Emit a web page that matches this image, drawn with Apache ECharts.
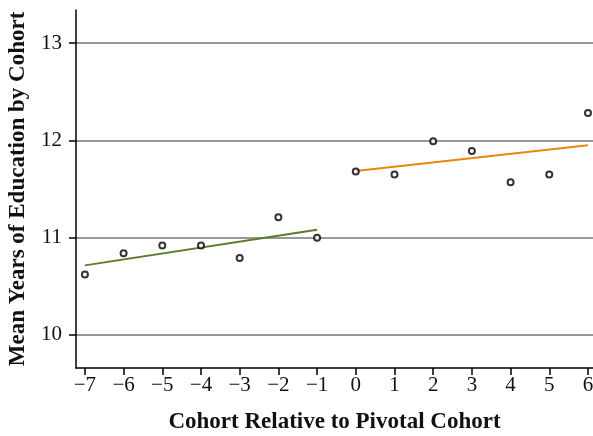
<!DOCTYPE html>
<html><head><meta charset="utf-8">
<script src="https://cdn.jsdelivr.net/npm/echarts@6/dist/echarts.min.js"></script>
<style>html,body{margin:0;padding:0;background:#fff}#c{width:593px;height:436px}</style>
</head><body><div id="c"></div>
<script>
const cohorts = [-7,-6,-5,-4,-3,-2,-1,0,1,2,3,4,5,6];
const meanYears = [10.62,10.84,10.92,10.92,10.79,11.21,11.00,11.68,11.65,11.99,11.89,11.57,11.65,12.28];
const preFitX = [-7,-1];
const preFitY = [10.715,11.08];
const postFitX = [0,6];
const postFitY = [11.685,11.95];
const xTicks = [-7,-6,-5,-4,-3,-2,-1,0,1,2,3,4,5,6];
const yTicks = [10,11,12,13];

const font = "'Liberation Serif', 'DejaVu Serif', serif";
const chart = echarts.init(document.getElementById('c'));
chart.setOption({
  animation:false,
  grid:{left:76,top:10,right:0,bottom:68,outerBoundsMode:'none',containLabel:false},
  xAxis:{type:'value',min:-7.23,max:6.13,
    name:'Cohort Relative to Pivotal Cohort',nameLocation:'middle',nameGap:43,
    nameTextStyle:{fontFamily:font,fontWeight:'bold',fontSize:23,color:'#111'},
    axisLine:{onZero:false,lineStyle:{color:'#000',width:1.5}},
    axisTick:{customValues:xTicks,length:7,lineStyle:{color:'#000',width:1.5}},
    axisLabel:{customValues:xTicks,fontFamily:font,fontSize:21,color:'#111',margin:7,
      formatter:v=>String(v).replace('-','\u2212')},
    splitLine:{show:false}},
  yAxis:{type:'value',min:9.66,max:13.34,
    name:'Mean Years of Education by Cohort',nameLocation:'middle',nameGap:46,
    nameTextStyle:{fontFamily:font,fontWeight:'bold',fontSize:23,color:'#111'},
    axisLine:{show:true,onZero:false,lineStyle:{color:'#000',width:1.5}},
    axisTick:{show:true,customValues:yTicks,length:7,lineStyle:{color:'#000',width:1.5}},
    axisLabel:{customValues:yTicks,fontFamily:font,fontSize:21,color:'#111',margin:14},
    splitLine:{show:true,lineStyle:{color:'#999',width:2}}},
  series:[
    {type:'line',data:preFitX.map((x,i)=>[x,preFitY[i]]),symbol:'none',
      lineStyle:{color:'#5b7a2a',width:2},z:2},
    {type:'line',data:postFitX.map((x,i)=>[x,postFitY[i]]),symbol:'none',
      lineStyle:{color:'#e8870e',width:2},z:2},
    {type:'scatter',data:cohorts.map((x,i)=>[x,meanYears[i]]),symbol:'circle',symbolSize:6,
      itemStyle:{color:'#fff',borderColor:'#000',borderWidth:2},z:3}
  ]
});
</script></body></html>
